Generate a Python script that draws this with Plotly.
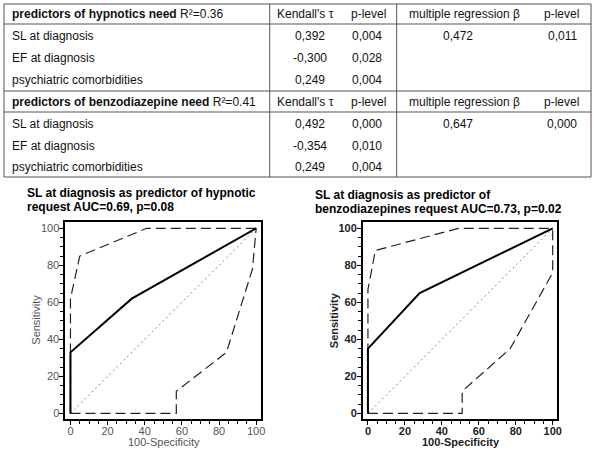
import plotly.graph_objects as go

W, H = 600, 450
FONT = "Liberation Sans, Arial, sans-serif"

# ---------------- table data ----------------
hyp_header = "<b>predictors of hypnotics need</b> R²=0.36"
benz_header = "<b>predictors of benzodiazepine need</b> R²=0.41"
col_headers = ["Kendall's τ", "p-level", "multiple regression β", "p-level"]
row_labels = ["SL at diagnosis", "EF at diagnosis", "psychiatric comorbidities"]
hyp_tau = ["0,392", "-0,300", "0,249"]
hyp_tau_p = ["0,004", "0,028", "0,004"]
hyp_beta = ["0,472", "", ""]
hyp_beta_p = ["0,011", "", ""]
benz_tau = ["0,492", "-0,354", "0,249"]
benz_tau_p = ["0,000", "0,010", "0,004"]
benz_beta = ["0,647", "", ""]
benz_beta_p = ["0,000", "", ""]

# ---------------- ROC data ----------------
title1 = ["SL at diagnosis as predictor of hypnotic", "request AUC=0.69, p=0.08"]
title2 = ["SL at diagnosis as predictor of", "benzodiazepines request AUC=0.73, p=0.02"]
roc1_x = [0, 0, 33, 100]
roc1_y = [0, 33, 62, 100]
up1_x = [0, 0, 5, 41, 100]
up1_y = [0, 62, 85, 100, 100]
lo1_x = [0, 57, 57, 84, 98, 100]
lo1_y = [0, 0, 12, 33, 78, 100]
roc2_x = [0, 0, 28, 100]
roc2_y = [0, 35, 65, 100]
up2_x = [0, 0, 4, 49, 100]
up2_y = [0, 67, 88, 100, 100]
lo2_x = [0, 51, 51, 77, 100, 100]
lo2_y = [0, 0, 12, 35, 76, 100]
diag = [0, 100]


def px(x):
    return x / W


def py(y):
    return 1 - y / H


fig = go.Figure()
shapes = []
ann = []

# table lines
LC = "#555555"
TOP, BOT, LEFT, RIGHT = 4, 177, 4, 596
shapes.append(dict(type="rect", xref="paper", yref="paper", x0=px(LEFT), x1=px(RIGHT),
                   y0=py(BOT), y1=py(TOP), line=dict(color=LC, width=1)))
for yy in [24, 91, 112]:
    shapes.append(dict(type="line", xref="paper", yref="paper", x0=px(LEFT), x1=px(RIGHT),
                       y0=py(yy), y1=py(yy), line=dict(color=LC, width=1)))
for xx in [272, 400]:
    shapes.append(dict(type="line", xref="paper", yref="paper", x0=px(xx), x1=px(xx),
                       y0=py(TOP), y1=py(BOT), line=dict(color=LC, width=1)))


def text(x, y, s, anchor="center", size=12, bold=False, color="#111", angle=0):
    if bold:
        s = "<b>" + s + "</b>"
    ann.append(dict(x=px(x), y=py(y), xref="paper", yref="paper", text=s, showarrow=False,
                    xanchor=anchor, yanchor="middle", textangle=angle,
                    font=dict(family=FONT, size=size, color=color)))


col_x = [308, 372, 468, 566]
val_x = [313, 370, 462, 567]

for header, hy, rows_y, vals in [
    (hyp_header, 14, [36, 58, 80], [hyp_tau, hyp_tau_p, hyp_beta, hyp_beta_p]),
    (benz_header, 102, [124, 146, 167], [benz_tau, benz_tau_p, benz_beta, benz_beta_p]),
]:
    text(10, hy, header, anchor="left")
    for cx, ch in zip(col_x, col_headers):
        text(cx, hy, ch)
    for i, ry in enumerate(rows_y):
        text(10, ry, row_labels[i], anchor="left")
        for vx, col in zip(val_x, vals):
            if col[i]:
                text(vx, ry, col[i])

# ROC plots
DASH = "10px,5px"


def add_roc(xa, ya, rx, ry, ux, uy, lx, ly):
    fig.add_trace(go.Scatter(x=diag, y=diag, mode="lines", xaxis=xa, yaxis=ya,
                             line=dict(color="#888888", width=1, dash="2px,3px"), showlegend=False, hoverinfo="skip"))
    fig.add_trace(go.Scatter(x=ux, y=uy, mode="lines", xaxis=xa, yaxis=ya,
                             line=dict(color="#222222", width=1.2, dash=DASH), showlegend=False))
    fig.add_trace(go.Scatter(x=lx, y=ly, mode="lines", xaxis=xa, yaxis=ya,
                             line=dict(color="#222222", width=1.2, dash=DASH), showlegend=False))
    fig.add_trace(go.Scatter(x=rx, y=ry, mode="lines", xaxis=xa, yaxis=ya,
                             line=dict(color="black", width=2), showlegend=False))


add_roc("x", "y", roc1_x, roc1_y, up1_x, up1_y, lo1_x, lo1_y)
add_roc("x2", "y2", roc2_x, roc2_y, up2_x, up2_y, lo2_x, lo2_y)


def axis(domain, rng, bold, anchor, standoff):
    return dict(domain=domain, range=rng, showgrid=False, zeroline=False,
                showline=True, linecolor="black", linewidth=2, mirror=True,
                ticks="outside", ticklen=4, tickwidth=1, tickcolor="black",
                tick0=0, dtick=20, anchor=anchor, ticklabelstandoff=standoff,
                minor=dict(ticks="outside", ticklen=3, tickwidth=1, tickcolor="black", dtick=5),
                tickfont=dict(family=FONT, size=11,
                              color="#222222" if bold else "#555555",
                              weight="bold" if bold else "normal"),
                fixedrange=True)


XR = [-2.7, 102.5]
YR = [-3.0, 103.4]
fig.update_layout(
    xaxis=axis([px(66), px(263)], XR, False, "y", -3),
    yaxis=axis([py(419), py(222)], YR, False, "x", -2),
    xaxis2=axis([px(366), px(562)], XR, True, "y2", -3),
    yaxis2=axis([py(419), py(222)], YR, True, "x2", -2),
)

# titles
for (tx, ty, lines) in [(25, 193, title1), (316, 195, title2)]:
    for k, ln in enumerate(lines):
        text(tx, ty + k * 14, ln, anchor="left", size=12, bold=True, color="black")

# axis titles
text(165, 442, "100-Specificity", size=11, color="#555555")
text(465, 442, "100-Specificity", size=11, bold=True, color="#222222")
text(36, 320, "Sensitivity", size=11, color="#555555", angle=-90)
text(337, 320, "Sensitivity", size=11, bold=True, color="#222222", angle=-90)

fig.update_layout(width=W, height=H, margin=dict(l=0, r=0, t=0, b=0),
                  paper_bgcolor="white", plot_bgcolor="white",
                  shapes=shapes, annotations=ann, showlegend=False)

fig.write_html("out.html", config={"displayModeBar": False},
               post_script="document.body.style.margin='0';")
